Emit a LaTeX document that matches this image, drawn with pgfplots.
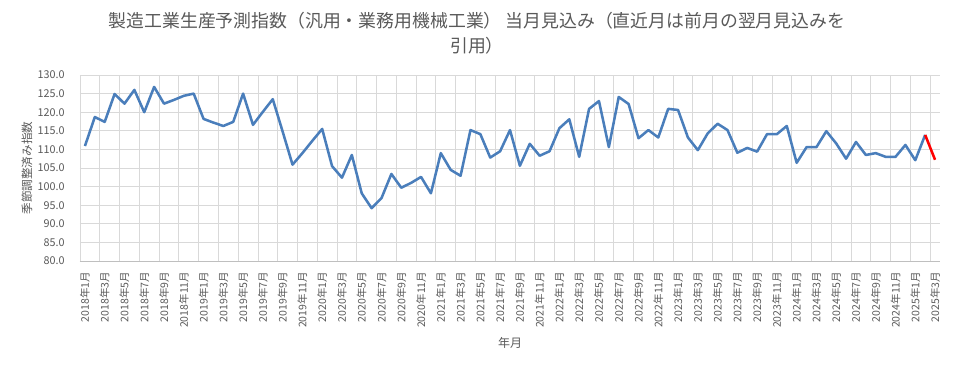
\documentclass[border=0pt]{standalone}
\usepackage{fontspec}
\setmainfont{Noto Sans CJK JP}
\usepackage{pgfplots}
\pgfplotsset{compat=1.18}
\definecolor{xlblue}{HTML}{4A7EBB}
\definecolor{xlred}{HTML}{FF0000}
\definecolor{txtgray}{HTML}{595959}
\definecolor{gridgray}{HTML}{D9D9D9}
\definecolor{axgray}{HTML}{BFBFBF}
\begin{document}
\begin{tikzpicture}
\begin{axis}[
  at={(0pt,0pt)}, anchor=south west,
  scale only axis, width=645pt, height=139.5pt,
  xmin=-0.5, xmax=86.5, ymin=80, ymax=130,
  axis x line*=bottom, axis y line*=left,
  x axis line style={draw=axgray, line width=0.75pt},
  y axis line style={draw=none},
  ytick={80,85,...,130},
  ymajorgrids=true,
  grid style={draw=gridgray, line width=0.6pt},
  minor grid style={draw=gridgray, line width=0.6pt},
  xtick={0,2,...,86},
  minor xtick={-0.5,1.5,...,85.5},
  xminorgrids=true, xmajorgrids=false,
  major tick length=0pt, minor tick length=0pt,
  xticklabels={2018年1月,2018年3月,2018年5月,2018年7月,2018年9月,2018年11月,
    2019年1月,2019年3月,2019年5月,2019年7月,2019年9月,2019年11月,
    2020年1月,2020年3月,2020年5月,2020年7月,2020年9月,2020年11月,
    2021年1月,2021年3月,2021年5月,2021年7月,2021年9月,2021年11月,
    2022年1月,2022年3月,2022年5月,2022年7月,2022年9月,2022年11月,
    2023年1月,2023年3月,2023年5月,2023年7月,2023年9月,2023年11月,
    2024年1月,2024年3月,2024年5月,2024年7月,2024年9月,2024年11月,
    2025年1月,2025年3月},
  xticklabel style={yshift=-4.5pt, rotate=90, anchor=east, font=\fontsize{7.9}{9}\selectfont, text=txtgray},
  yticklabel style={font=\fontsize{8.1}{9.6}\selectfont, text=txtgray, xshift=-8pt},
  /pgf/number format/assume math mode=true,
  yticklabel={\pgfmathprintnumber[fixed,fixed zerofill,precision=1]{\tick}},
  xlabel={年月},
  xlabel style={at={(axis description cs:0.5,-0.441)}, anchor=center, font=\fontsize{9}{11}\selectfont, text=txtgray},
  ylabel={季節調整済み指数},
  ylabel style={at={(axis description cs:-0.0616,0.5)}, anchor=center, font=\fontsize{8.7}{10}\selectfont, text=txtgray},
  clip=false,
]
\addplot[color=xlblue, line width=1.9pt, line join=round] table[x=i, y=v] {
i v
0 110.9
1 118.7
2 117.4
3 124.9
4 122.3
5 126.0
6 120.0
7 126.8
8 122.3
9 123.3
10 124.4
11 125.0
12 118.2
13 117.2
14 116.3
15 117.4
16 125.0
17 116.6
18 120.1
19 123.5
20 114.8
21 105.9
22 109.0
23 112.3
24 115.5
25 105.5
26 102.4
27 108.5
28 98.2
29 94.2
30 96.9
31 103.4
32 99.7
33 101.0
34 102.6
35 98.2
36 109.0
37 104.5
38 102.9
39 115.2
40 114.1
41 107.8
42 109.5
43 115.2
44 105.6
45 111.5
46 108.3
47 109.5
48 115.7
49 118.1
50 108.0
51 120.9
52 123.0
53 110.6
54 124.1
55 122.2
56 113.0
57 115.2
58 113.2
59 120.9
60 120.6
61 113.2
62 109.8
63 114.3
64 116.9
65 115.2
66 109.1
67 110.4
68 109.4
69 114.1
70 114.1
71 116.3
72 106.4
73 110.6
74 110.6
75 114.9
76 111.6
77 107.5
78 112.0
79 108.5
80 109.0
81 108.0
82 108.0
83 111.2
84 107.1
85 113.9
};
\addplot[color=xlred, line width=1.9pt] coordinates {(85,113.9) (86,107.2)};
\end{axis}
\node[text=txtgray, font=\fontsize{13.4}{16}\selectfont] at (297.75pt,180pt) {製造工業生産予測指数（汎用・業務用機械工業） 当月見込み（直近月は前月の翌月見込みを};
\node[text=txtgray, font=\fontsize{13.4}{16}\selectfont] at (297.75pt,161.25pt) {引用）};
\pgfresetboundingbox
\path (-60pt,-80.25pt) rectangle (655.5pt,195.75pt);
\end{tikzpicture}
\end{document}
